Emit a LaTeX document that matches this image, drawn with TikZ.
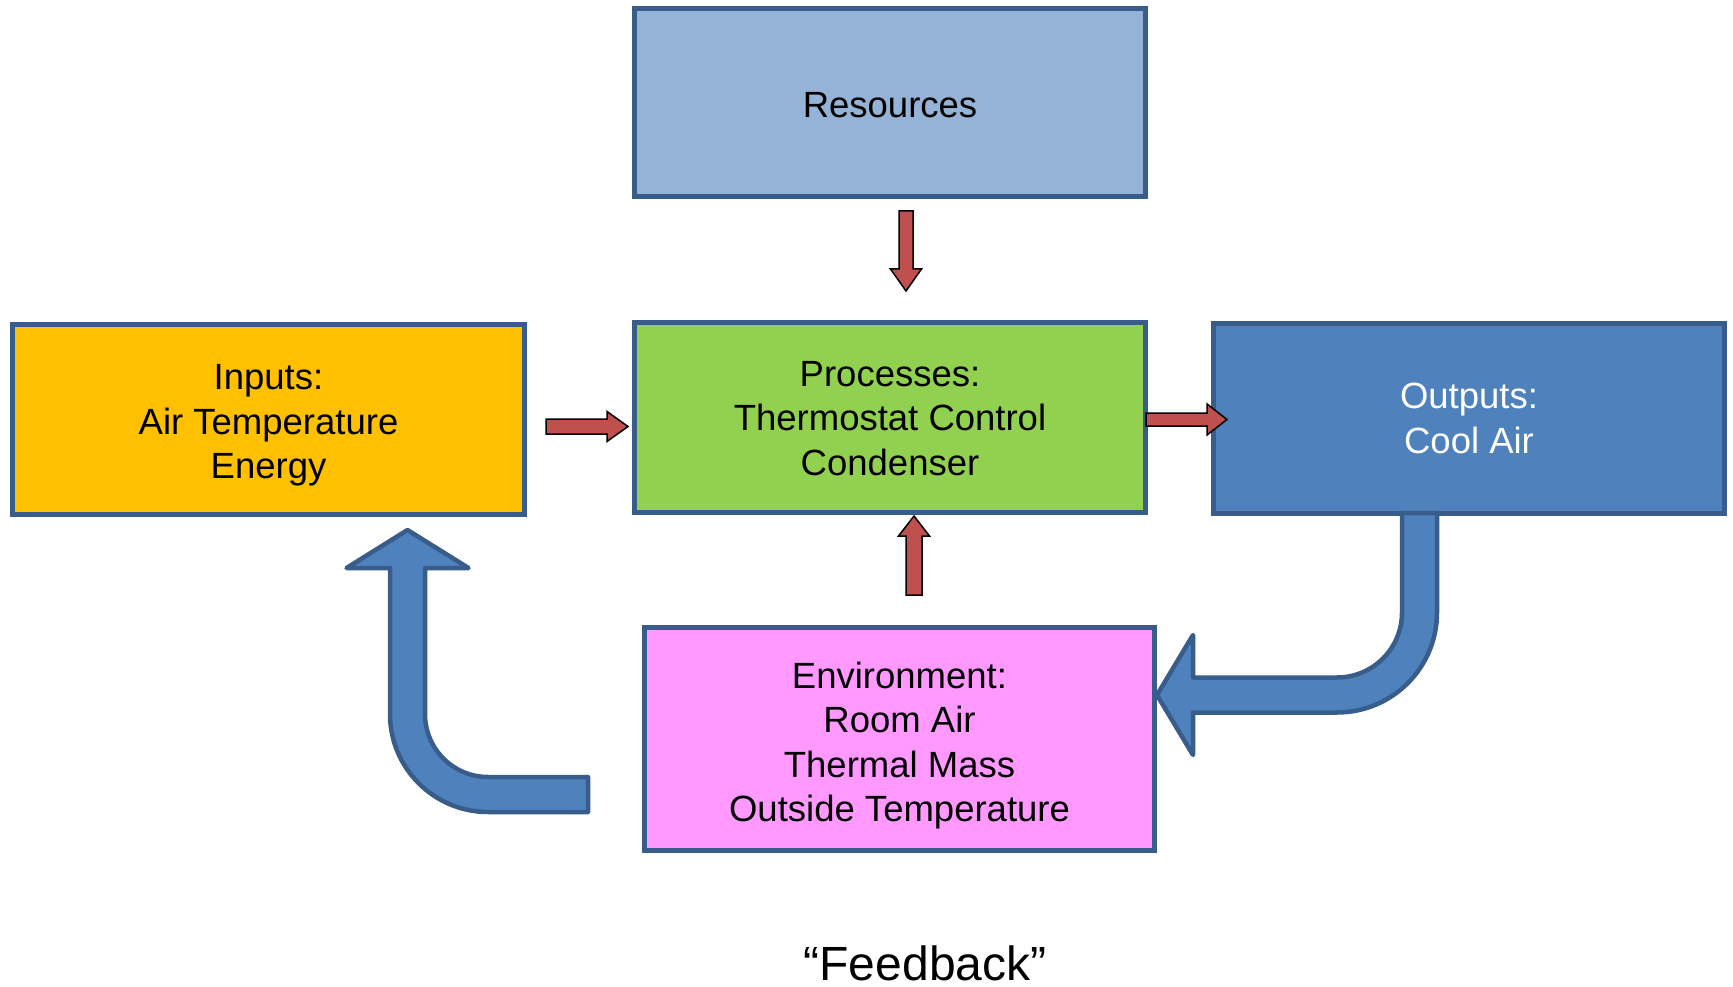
\documentclass[tikz,border=0pt]{standalone}
\usepackage{fontspec}
\setmainfont{Liberation Sans}
\usetikzlibrary{calc}
\definecolor{edgeblue}{HTML}{385D8A}
\definecolor{resfill}{HTML}{95B3D7}
\definecolor{inpfill}{HTML}{FFC000}
\definecolor{procfill}{HTML}{92D050}
\definecolor{outfill}{HTML}{4F81BD}
\definecolor{envfill}{HTML}{FF99FF}
\definecolor{arrowred}{HTML}{C0504D}
\newcommand\boxfont{\fontsize{36.5}{44.5}\selectfont}
\newcommand\redblock[5]{%
  \coordinate (rb-h) at ($(#2)!#5!(#1)$);
  \draw[redarrow] ($(#1)!#3!90:(#2)$) -- ($(rb-h)!#3!90:(#2)$) -- ($(rb-h)!#4!90:(#2)$) -- (#2)
    -- ($(rb-h)!#4!-90:(#2)$) -- ($(rb-h)!#3!-90:(#2)$) -- ($(#1)!#3!-90:(#2)$) -- cycle;}
\tikzset{
  box/.style={draw=edgeblue, line width=5pt, inner sep=0pt},
  boxtext/.style={inner sep=0pt, align=center, font=\boxfont, text=black},
  redarrow/.style={fill=arrowred, draw=black, line width=1.5pt, line join=miter},
  bluearrow/.style={fill=outfill, draw=edgeblue, line width=4.5pt, line join=round},
}
\begin{document}
\begin{tikzpicture}[x=1pt, y=-1pt]
\useasboundingbox (0,0) rectangle (1733,987);
\node[box, fill=resfill, minimum width=511pt, minimum height=188.5pt] (res) at (890,102.75) {};
\node[box, fill=inpfill, minimum width=512pt, minimum height=190pt] (inp) at (268.5,419.5) {};
\node[box, fill=procfill, minimum width=511pt, minimum height=190pt] (proc) at (890,417.5) {};
\node[box, fill=outfill, minimum width=511pt, minimum height=189.5pt] (out) at (1469,418.25) {};
\node[box, fill=envfill, minimum width=510pt, minimum height=223pt] (env) at (899.5,739) {};

\node[boxtext] (res-t) at ($(res.center)+(0,2.5)$) {Resources};
\node[boxtext] (inp-t) at ($(inp.center)+(0,6)$) {Inputs:\\Air Temperature\\Energy};
\node[boxtext] (proc-t) at ($(proc.center)+(0,1)$) {Processes:\\Thermostat Control\\Condenser};
\node[boxtext, text=white] (out-t) at ($(out.center)+(0,0.3)$) {Outputs:\\Cool Air};
\node[boxtext] (env-t) at ($(env.center)+(0,6.8)$) {Environment:\\Room Air\\Thermal Mass\\Outside Temperature};
\node[anchor=base, inner sep=0pt, text depth=0pt, font=\fontsize{48}{56}\selectfont] (fb) at (925,980) {“Feedback”};

% red block arrows
\coordinate (d1s) at ($(res.south)+(16,11.5)$);
\coordinate (d1e) at ($(proc.north)+(16,-29)$);
\redblock{d1s}{d1e}{7pt}{15.5pt}{22pt}
\coordinate (u1s) at ($(env.north)+(14.5,-30)$);
\coordinate (u1e) at ($(proc.south)+(24,1)$);
\redblock{u1s}{u1e}{8pt}{15.5pt}{20pt}
\coordinate (r1s) at ($(inp.east)+(19,7)$);
\coordinate (r1e) at ($(proc.west)+(-4,9)$);
\redblock{r1s}{r1e}{7.5pt}{15pt}{21pt}
\coordinate (r2s) at ($(proc.east)+(-2,2)$);
\coordinate (r2e) at ($(out.west)+(16,1.25)$);
\redblock{r2s}{r2e}{6.5pt}{15.5pt}{20pt}

% blue bent arrow: outputs -> environment
\coordinate (b1s) at ($(out.south)+(-49.5,-2.5)$);
\coordinate (b1t) at ($(env.east)+(0,-44)$);
\coordinate (c1) at (b1s |- b1t);
\draw[bluearrow] ($(b1s)+(-17.5,0)$) -- ($(b1s)+(17.5,0)$) -- ($(c1)+(17.5,-82.5)$)
  .. controls ($(c1)+(17.5,-27.3)$) and ($(c1)+(-27.3,17.5)$) .. ($(c1)+(-82.5,17.5)$)
  -- ($(b1t)+(36,17.5)$) -- ($(b1t)+(36,60)$) -- (b1t) -- ($(b1t)+(36,-60)$) -- ($(b1t)+(36,-17.5)$)
  -- ($(c1)+(-82.5,-17.5)$) .. controls ($(c1)+(-46.6,-17.5)$) and ($(c1)+(-17.5,-46.6)$) .. ($(c1)+(-17.5,-82.5)$)
  -- cycle;

% blue bent arrow: environment -> inputs
\coordinate (b2s) at ($(env.west)+(-54,55.5)$);
\coordinate (b2t) at ($(inp.south)+(139,13)$);
\coordinate (c2) at (b2t |- b2s);
\draw[bluearrow] ($(b2s)+(0,-17.5)$) -- ($(b2s)+(0,17.5)$) -- ($(c2)+(80.5,17.5)$)
  .. controls ($(c2)+(26.4,17.5)$) and ($(c2)+(-17.5,-26.4)$) .. ($(c2)+(-17.5,-80.5)$)
  -- ($(b2t)+(-17.5,38)$) -- ($(b2t)+(-61,38)$) -- (b2t) -- ($(b2t)+(61,38)$) -- ($(b2t)+(17.5,38)$)
  -- ($(c2)+(17.5,-80.5)$) .. controls ($(c2)+(17.5,-45.7)$) and ($(c2)+(45.7,-17.5)$) .. ($(c2)+(80.5,-17.5)$)
  -- cycle;
\end{tikzpicture}
\end{document}
